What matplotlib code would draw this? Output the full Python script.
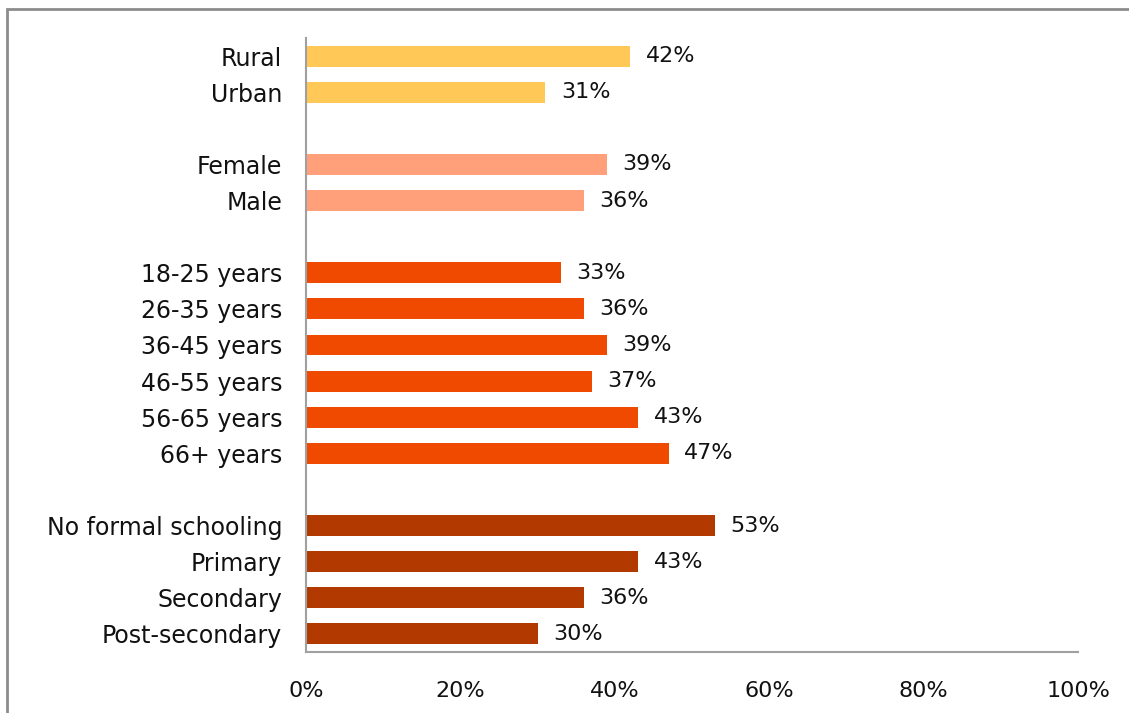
import numpy as np
import matplotlib.pyplot as plt
from matplotlib.patches import Rectangle

# datos (de arriba hacia abajo)
groups = [
    (["Rural", "Urban"], [42, 31], "#FFC857"),
    (["Female", "Male"], [39, 36], "#FFA07A"),
    (["18-25 years", "26-35 years", "36-45 years", "46-55 years",
      "56-65 years", "66+ years"], [33, 36, 39, 37, 43, 47], "#F04A00"),
    (["No formal schooling", "Primary", "Secondary", "Post-secondary"],
     [53, 43, 36, 30], "#B23A00"),
]
xticks = [0, 20, 40, 60, 80, 100]

plt.rcParams['font.family'] = ['DejaVu Sans']

fig = plt.figure(figsize=(11.29, 7.13), dpi=100)
ax = fig.add_axes([0.271, 0.0856, 0.684, 0.8611])

labels, values, colors, ypos = [], [], [], []
slot = 0
for names, vals, col in groups:
    for n, v in zip(names, vals):
        labels.append(n)
        values.append(v)
        colors.append(col)
        ypos.append(slot)
        slot += 1
    slot += 1
nslots = slot - 1

ax.barh(ypos, values, height=0.58, color=colors)
for y, v in zip(ypos, values):
    ax.text(v + 2.0, y, f"{v}%", va='center', ha='left', fontsize=16, color='#111111')

ax.set_ylim(nslots - 0.5, -0.5)
ax.set_xlim(0, 100)
ax.set_yticks(ypos)
ax.set_yticklabels(labels, fontsize=17, color='#111111')
ax.set_xticks(xticks)
ax.set_xticklabels([f"{t}%" for t in xticks], fontsize=16, color='#111111')
ax.tick_params(axis='y', length=0, pad=17)
ax.tick_params(axis='x', length=0, pad=21)
for s in ['top', 'right']:
    ax.spines[s].set_visible(False)
for s in ['left', 'bottom']:
    ax.spines[s].set_color('#A0A0A0')
    ax.spines[s].set_linewidth(1.5)

# marco exterior
fig.patches.append(Rectangle((7 / 1129, -0.1), 1.2, 1 - 9 / 713 + 0.1,
                             transform=fig.transFigure, fill=False,
                             edgecolor='#8C8C8C', linewidth=2))

fig.savefig('out.png', dpi=100)
